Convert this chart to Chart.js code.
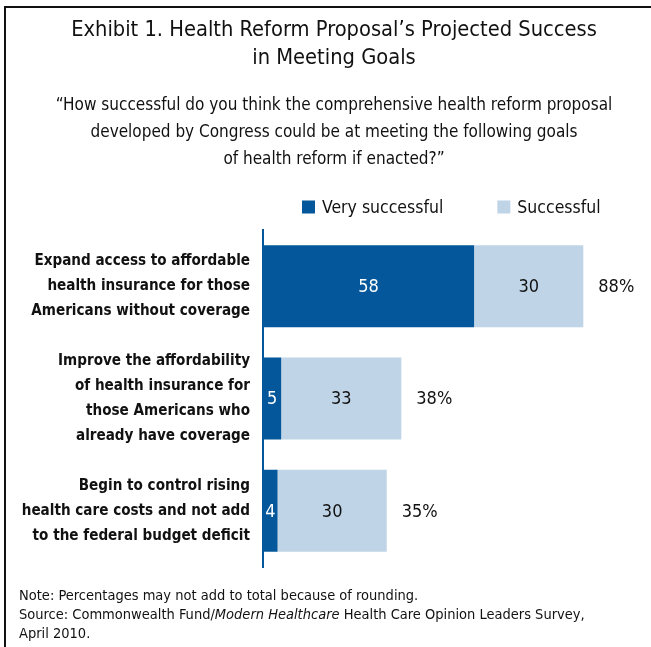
<!DOCTYPE html>
<html>
<head>
<meta charset="utf-8">
<script src="https://cdn.jsdelivr.net/npm/chart.js@4.4.1/dist/chart.umd.min.js"></script>
<style>
  body { margin: 0; background: #fff; overflow: hidden; }
  #wrap { position: relative; width: 651px; height: 647px; overflow: hidden; }
  #frame { position: absolute; left: 4px; top: 6px; width: 700px; height: 700px; border: 2px solid #111; }
  canvas { position: absolute; left: 0; top: 0; }
  #notes { position: absolute; left: 19px; top: 586px; font: 14.5px 'DejaVu Sans Condensed', sans-serif; line-height: 19px; color: #111; }
</style>
</head>
<body>
<div id="wrap">
  <div id="frame"></div>
  <canvas id="exhibit" width="651" height="647"></canvas>
  <div id="notes">
    Note: Percentages may not add to total because of rounding.<br>
    Source: Commonwealth Fund/<i>Modern Healthcare</i> Health Care Opinion Leaders Survey,<br>
    April 2010.
  </div>
</div>
<script>
let goals = [
    ["Expand access to affordable", "health insurance for those", "Americans without coverage"],
    ["Improve the affordability", "of health insurance for", "those Americans who", "already have coverage"],
    ["Begin to control rising", "health care costs and not add", "to the federal budget deficit"]
];
let verySuccessful = [58, 5, 4];
let successful = [30, 33, 30];
let totals = [88, 38, 35];
let seriesNames = ["Very successful", "Successful"];

let darkBlue = "#03579a";
let lightBlue = "#bfd4e6";
let fontFamily = "'DejaVu Sans Condensed', sans-serif";

// draws the value inside each bar and the total after the bar
const barLabels = {
    id: "barLabels",
    afterDatasetsDraw(chart) {
        var ctx = chart.ctx;
        ctx.save();
        ctx.font = "18px " + fontFamily;
        ctx.textBaseline = "middle";
        chart.data.datasets.forEach(function (ds, i) {
            var meta = chart.getDatasetMeta(i);
            meta.data.forEach(function (bar, j) {
                var left = Math.min(bar.x, bar.base);
                var right = Math.max(bar.x, bar.base);
                ctx.fillStyle = i == 0 ? "#fff" : "#111";
                ctx.textAlign = "center";
                ctx.fillText(ds.data[j], (left + right) / 2, bar.y + 1);
                if (i == chart.data.datasets.length - 1) {
                    ctx.fillStyle = "#111";
                    ctx.textAlign = "left";
                    ctx.fillText(totals[j] + "%", right + 15, bar.y + 1);
                }
            });
        });
        ctx.restore();
    }
};

// simple legend above the bars
const topLegend = {
    id: "topLegend",
    afterDraw(chart) {
        var ctx = chart.ctx;
        var x = chart.chartArea.left + 39;
        var y = chart.chartArea.top - 23;
        ctx.save();
        ctx.font = "17.5px " + fontFamily;
        ctx.textBaseline = "middle";
        ctx.textAlign = "left";
        chart.data.datasets.forEach(function (ds) {
            ctx.fillStyle = ds.backgroundColor;
            ctx.fillRect(x, y - 6.5, 13, 13);
            ctx.fillStyle = "#111";
            ctx.fillText(ds.label, x + 20, y + 1);
            x += 20 + ctx.measureText(ds.label).width + 54;
        });
        ctx.restore();
    }
};

var myChart = new Chart(document.getElementById("exhibit").getContext("2d"), {
    type: "bar",
    data: {
        labels: goals,
        datasets: [{
            label: seriesNames[0],
            data: verySuccessful,
            backgroundColor: darkBlue
        }, {
            label: seriesNames[1],
            data: successful,
            backgroundColor: lightBlue
        }]
    },
    options: {
        indexAxis: "y",
        responsive: false,
        animation: false,
        barPercentage: 0.73,
        categoryPercentage: 1,
        layout: {
            padding: { left: 17, right: 0, bottom: 80, top: 0 }
        },
        plugins: {
            legend: { display: false },
            tooltip: { enabled: false },
            title: {
                display: true,
                text: ["Exhibit 1. Health Reform Proposal\u2019s Projected Success", "in Meeting Goals"],
                color: "#111",
                font: { family: fontFamily, size: 21.7, weight: "normal", lineHeight: 28 / 21.7 },
                padding: { top: 16, bottom: 8 }
            },
            subtitle: {
                display: true,
                text: ["\u201cHow successful do you think the comprehensive health reform proposal",
                       "developed by Congress could be at meeting the following goals",
                       "of health reform if enacted?\u201d"],
                color: "#111",
                font: { family: fontFamily, size: 17, lineHeight: 27 / 17 },
                padding: { top: 12, bottom: 57 }
            }
        },
        scales: {
            x: {
                display: false,
                stacked: true,
                min: 0,
                max: 106.6
            },
            y: {
                stacked: true,
                grid: { display: false, drawTicks: false },
                border: { display: true, color: darkBlue, width: 2 },
                ticks: {
                    color: "#111",
                    padding: 13,
                    font: { family: fontFamily, size: 15.1, weight: "bold", lineHeight: 25 / 15.1 }
                },
                afterFit: function (scale) {
                    scale.width = 246;
                }
            }
        }
    },
    plugins: [barLabels, topLegend]
});
</script>
</body>
</html>
